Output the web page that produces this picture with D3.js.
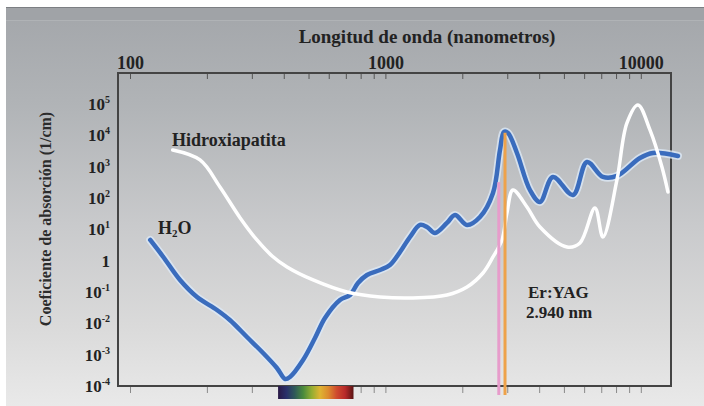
<!DOCTYPE html>
<html>
<head>
<meta charset="utf-8">
<script src="https://cdn.jsdelivr.net/npm/d3@7"></script>
<style>
  html, body { margin: 0; padding: 0; background: #fff; }
  svg text { font-family: "Liberation Serif", "Times New Roman", serif; font-weight: bold; fill: #222; }
</style>
</head>
<body>
<svg id="chart" width="704" height="406"></svg>
<script>
// water absorption (H2O), wavelength nm / coefficient 1/cm
const waterNm = [120, 135, 157, 183, 219, 246, 287, 332, 376, 405, 423, 476, 530, 580,
  664, 727, 781, 847, 953, 1042, 1141, 1248, 1366, 1455, 1564, 1742, 1873, 2087, 2346,
  2638, 2810, 2913, 3019, 3274, 3681, 4029, 4529, 5426, 6155, 7109, 8064, 9924, 11160, 13980]
const waterCoef = [4.57, 1.31, 0.242, 0.0693, 0.0267, 0.0128, 0.00366, 0.00113, 3.76e-4, 1.67e-4,
  1.94e-4, 6.76e-4, 3.4e-3, 0.0148, 0.0556, 0.0804, 0.194, 0.349, 0.505, 0.728, 1.89, 5.7,
  13.8, 11.9, 7.65, 16.0, 28.7, 13.8, 24.8, 145, 3410, 12820, 11900, 2737, 180, 74.7, 469,
  125, 1413, 469, 505, 1897, 2737, 2198]

// hydroxyapatite
const apatiteNm = [147, 188, 225, 270, 314, 360, 412, 521, 707, 953, 1282, 1742, 2087, 2410,
  2638, 2860, 2992, 3158, 3584, 4029, 5141, 5779, 6616, 7109, 8064, 8828, 9745, 10860, 12100, 12770]
const apatiteCoef = [3410, 1637, 225, 23.1, 4.57, 1.41, 0.628, 0.242, 0.1, 0.0693, 0.0644,
  0.0804, 0.1445, 0.404, 1.31, 4.57, 33.3, 180, 51.7, 11.9, 2.73, 3.67, 48.1, 5.7, 377,
  24830, 93300, 14860, 977, 156]

const xTickLabels = [100, 1000, 10000]
const yTickValues = [1e-4, 1e-3, 1e-2, 1e-1, 1, 1e1, 1e2, 1e3, 1e4, 1e5]
const laserNm = [2780, 2940]
const laserTop = [320, 12000]
const laserColors = ['#e79ccb', '#eea24a']
const visibleNm = [380, 750]
const spectrumColors = ['#2a1946', '#29306a', '#2f5a58', '#4a8a3c', '#93ad32', '#dfb432',
  '#dc8a2e', '#cf4a2e', '#b82a2a', '#5a1414']

const svg = d3.select('#chart')
const box = { left: 118, right: 671, top: 73, bottom: 386 }

const x = d3.scaleLog().domain([100, 10000]).range([130, 640.8])
const y = d3.scaleLog().domain([1e-4, 1e5]).range([386, 104])

const defs = svg.append('defs')
const bg = defs.append('linearGradient').attr('id', 'bg')
  .attr('x1', 0).attr('y1', 0).attr('x2', 0).attr('y2', 1)
bg.append('stop').attr('offset', '0%').attr('stop-color', '#a3a6aa')
bg.append('stop').attr('offset', '25%').attr('stop-color', '#b1b4b7')
bg.append('stop').attr('offset', '55%').attr('stop-color', '#c9cacc')
bg.append('stop').attr('offset', '80%').attr('stop-color', '#dadada')
bg.append('stop').attr('offset', '100%').attr('stop-color', '#e9e9e9')

const spec = defs.append('linearGradient').attr('id', 'spectrum')
spectrumColors.forEach((c, i) => {
  spec.append('stop').attr('offset', (i / (spectrumColors.length - 1) * 100) + '%').attr('stop-color', c)
})

// background
svg.append('rect').attr('width', 704).attr('height', 406).attr('fill', '#fff')
svg.append('rect').attr('x', 6).attr('y', 7).attr('width', 698).attr('height', 399).attr('fill', 'url(#bg)')
svg.append('rect').attr('x', 6).attr('y', 7).attr('width', 698).attr('height', 13).attr('fill', '#a0a3a7')
svg.append('line').attr('x1', 6).attr('x2', 704).attr('y1', 7.5).attr('y2', 7.5).attr('stroke', '#7c7f83')
svg.append('line').attr('x1', 6).attr('x2', 704).attr('y1', 20.5).attr('y2', 20.5).attr('stroke', '#b0b3b6')

// ticks
const tickScale = d3.scaleLog().domain([x.invert(box.left), x.invert(box.right)]).range([box.left, box.right])
const tickVals = tickScale.ticks().filter(d => d >= 100 && d <= 13000)

const topAxis = d3.axisTop(x).tickValues(tickVals).tickSize(-6).tickPadding(4)
  .tickFormat(d => xTickLabels.includes(d) ? d3.format('d')(d) : '')
const gTop = svg.append('g').attr('transform', `translate(0,${box.top})`).call(topAxis)
gTop.select('.domain').remove()
gTop.selectAll('line').attr('stroke', '#555')
gTop.selectAll('text').attr('font-size', 18).attr('font-family', null).style('fill', '#222')

const bottomAxis = d3.axisBottom(x).tickValues(tickVals).tickSize(7).tickFormat('')
const gBot = svg.append('g').attr('transform', `translate(0,${box.bottom})`).call(bottomAxis)
gBot.select('.domain').remove()
gBot.selectAll('line').attr('stroke', '#8a8a8a')

// frame
svg.append('rect')
  .attr('x', box.left).attr('y', box.top)
  .attr('width', box.right - box.left).attr('height', box.bottom - box.top)
  .attr('fill', 'none').attr('stroke', '#444').attr('stroke-width', 2)

// y labels
const yLab = svg.append('g')
yTickValues.forEach(v => {
  const e = Math.round(Math.log10(v))
  const t = yLab.append('text').attr('x', 110).attr('y', y(v) + 6)
    .attr('text-anchor', 'end').attr('font-size', 17)
  if (e === 0) {
    t.text('1')
  } else {
    t.append('tspan').text('10')
    t.append('tspan').attr('font-size', 10).attr('dy', -7).text(e < 0 ? '-' + (-e) : e)
  }
})

// titles
svg.append('text').attr('x', 427).attr('y', 43).attr('text-anchor', 'middle')
  .attr('font-size', 19).text('Longitud de onda (nanometros)')
svg.append('text').attr('transform', 'translate(51,219) rotate(-90)').attr('text-anchor', 'middle')
  .attr('font-size', 16).style('fill', '#2c2c2c').text('Coeficiente de absorción (1/cm)')

// curves
const line = d3.line()
  .x(d => x(d[0])).y(d => y(d[1]))
  .curve(d3.curveCatmullRom.alpha(0.5))

const water = waterNm.map((d, i) => [d, waterCoef[i]])
const apatite = apatiteNm.map((d, i) => [d, apatiteCoef[i]])

svg.append('path').attr('d', line(water)).attr('fill', 'none')
  .attr('stroke', '#dce8f6').attr('stroke-width', 8).attr('stroke-opacity', 0.8)
  .attr('stroke-linecap', 'round').attr('stroke-linejoin', 'round')
svg.append('path').attr('d', line(water)).attr('fill', 'none')
  .attr('stroke', '#3a6cbd').attr('stroke-width', 4.5)
  .attr('stroke-linecap', 'round').attr('stroke-linejoin', 'round')

svg.append('path').attr('d', line(apatite)).attr('fill', 'none')
  .attr('stroke', '#ffffff').attr('stroke-width', 3.5)
  .attr('stroke-linecap', 'round').attr('stroke-linejoin', 'round')

// laser lines
laserNm.forEach((nm, i) => {
  svg.append('line')
    .attr('x1', x(nm)).attr('x2', x(nm))
    .attr('y1', y(laserTop[i])).attr('y2', box.bottom + 9)
    .attr('stroke', laserColors[i]).attr('stroke-width', 3)
})

// visible spectrum strip
svg.append('rect')
  .attr('x', x(visibleNm[0])).attr('y', box.bottom)
  .attr('width', x(visibleNm[1]) - x(visibleNm[0])).attr('height', 13)
  .attr('fill', 'url(#spectrum)')

// labels
svg.append('text').attr('x', 172).attr('y', 146).attr('font-size', 18).text('Hidroxiapatita')
const h2o = svg.append('text').attr('x', 158).attr('y', 234).attr('font-size', 18)
h2o.append('tspan').text('H')
h2o.append('tspan').attr('font-size', 11).attr('dy', 3).text('2')
h2o.append('tspan').attr('dy', -3).text('O')
svg.append('text').attr('x', 528).attr('y', 298).attr('font-size', 17).text('Er:YAG')
svg.append('text').attr('x', 526).attr('y', 318).attr('font-size', 17).text('2.940 nm')
</script>
</body>
</html>
